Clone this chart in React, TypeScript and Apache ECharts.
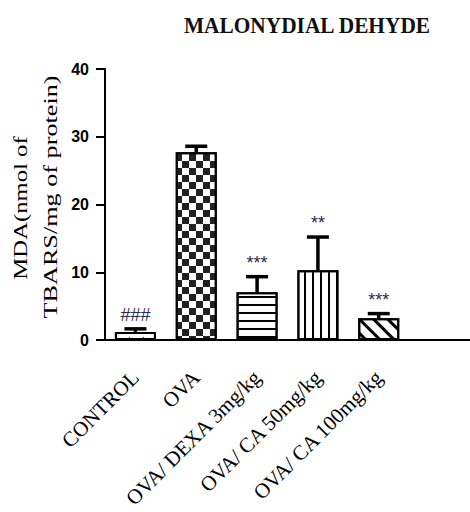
import React, { useEffect, useRef } from "react";
import * as echarts from "echarts";

const categories = ["CONTROL", "OVA", "OVA/ DEXA 3mg/kg", "OVA/ CA 50mg/kg", "OVA/ CA 100mg/kg", ""];
const means = [1.2, 27.7, 7.05, 10.3, 3.2];
const sems = [0.45, 0.9, 2.3, 4.9, 0.7];
const sigLabels = ["###", "", "***", "**", "***"];
const yTicks = { min: 0, max: 40, interval: 10 };
const titleText = "MALONYDIAL DEHYDE";
const yNameLines = ["MDA(nmol of", "TBARS/mg of protein)"];

const decals: any[] = [
  { symbol: "circle", symbolSize: 0.45, color: "#444", dashArrayX: [7, 7], dashArrayY: [3, 5] },
  { symbol: "rect", symbolSize: 1, color: "#222", dashArrayX: [[6.6, 6.6], [0, 6.6, 6.6, 0]], dashArrayY: [6.6, 0] },
  { symbol: "rect", symbolSize: 1, color: "#000", dashArrayX: [1, 0], dashArrayY: [1.6, 5.1] },
  { symbol: "rect", symbolSize: 1, color: "#000", dashArrayX: [1.6, 5.1], dashArrayY: [1, 0] },
  { symbol: "rect", symbolSize: 1, color: "#000", dashArrayX: [1, 0], dashArrayY: [3, 7], rotation: Math.PI / 4 },
];

export default function App() {
  const ref = useRef<HTMLDivElement>(null);
  useEffect(() => {
    if (!ref.current) return;
    const chart = echarts.init(ref.current, null, { renderer: "svg" });
    const barData = means.map((v, i) => ({
      value: v,
      itemStyle: { color: "#fff", borderColor: "#000", borderWidth: 2, decal: decals[i] },
    }));
    const errData = means.map((v, i) => [i, v, sems[i]]);
    chart.setOption({
      animation: false,
      backgroundColor: "#fff",
      grid: { left: 105, right: -4, top: 69, bottom: 171, containLabel: false },
      graphic: [
        {
          type: "text",
          x: 307,
          y: 25,
          scaleX: 0.89,
          style: {
            text: titleText,
            font: "bold 24px 'Liberation Serif'",
            fill: "#111",
            textAlign: "center",
            textVerticalAlign: "middle",
          },
        },
        {
          type: "text",
          x: 21,
          y: 208,
          rotation: Math.PI / 2,
          scaleX: 1.3,
          style: {
            text: yNameLines[0],
            font: "19px 'Liberation Serif'",
            fill: "#000",
            textAlign: "center",
            textVerticalAlign: "middle",
          },
        },
        {
          type: "text",
          x: 51,
          y: 197,
          rotation: Math.PI / 2,
          scaleX: 1.38,
          style: {
            text: yNameLines[1],
            font: "19px 'Liberation Serif'",
            fill: "#000",
            textAlign: "center",
            textVerticalAlign: "middle",
          },
        },
      ],
      xAxis: {
        type: "category",
        data: categories,
        boundaryGap: true,
        axisLine: { lineStyle: { color: "#000", width: 2 } },
        axisTick: { alignWithLabel: true, length: 9, lineStyle: { color: "#000", width: 2 } },
        axisLabel: {
          interval: 0,
          rotate: 45,
          margin: 34,
          color: "#000",
          fontFamily: "Liberation Serif",
          fontSize: 21,
        },
      },
      yAxis: {
        type: "value",
        min: yTicks.min,
        max: yTicks.max,
        interval: yTicks.interval,
        splitLine: { show: false },
        axisLine: { show: true, lineStyle: { color: "#000", width: 2 } },
        axisTick: { show: true, length: 9, lineStyle: { color: "#000", width: 2 } },
        axisLabel: {
          margin: 16,
          color: "#000",
          fontFamily: "Liberation Sans",
          fontWeight: "bold",
          fontSize: 16,
        },
      },
      series: [
        {
          type: "bar",
          data: barData,
          barWidth: 41,
          z: 2,
        },
        {
          type: "custom",
          data: errData,
          encode: { x: 0, y: 1 },
          z: 3,
          renderItem: (params: any, api: any) => {
            const i = api.value(0);
            const v = api.value(1);
            const e = api.value(2);
            const base = api.coord([i, v]);
            const top = api.coord([i, v + e]);
            const half = 11;
            return {
              type: "group",
              children: [
                {
                  type: "line",
                  shape: { x1: base[0], y1: base[1], x2: top[0], y2: top[1] },
                  style: { stroke: "#000", lineWidth: 3.5 },
                },
                {
                  type: "line",
                  shape: { x1: top[0] - half, y1: top[1], x2: top[0] + half, y2: top[1] },
                  style: { stroke: "#000", lineWidth: 3.5 },
                },
                {
                  type: "text",
                  x: top[0],
                  y: top[1] - 5,
                  style: {
                    text: sigLabels[params.dataIndex],
                    font: "18px 'Liberation Sans'",
                    fill: "#2b2b4a",
                    textAlign: "center",
                    textVerticalAlign: "bottom",
                  },
                },
              ],
            };
          },
        },
      ],
    });
    return () => chart.dispose();
  }, []);
  return (
    <div
      ref={ref}
      style={{ position: "fixed", left: 0, top: 0, width: 470, height: 512 }}
    />
  );
}
